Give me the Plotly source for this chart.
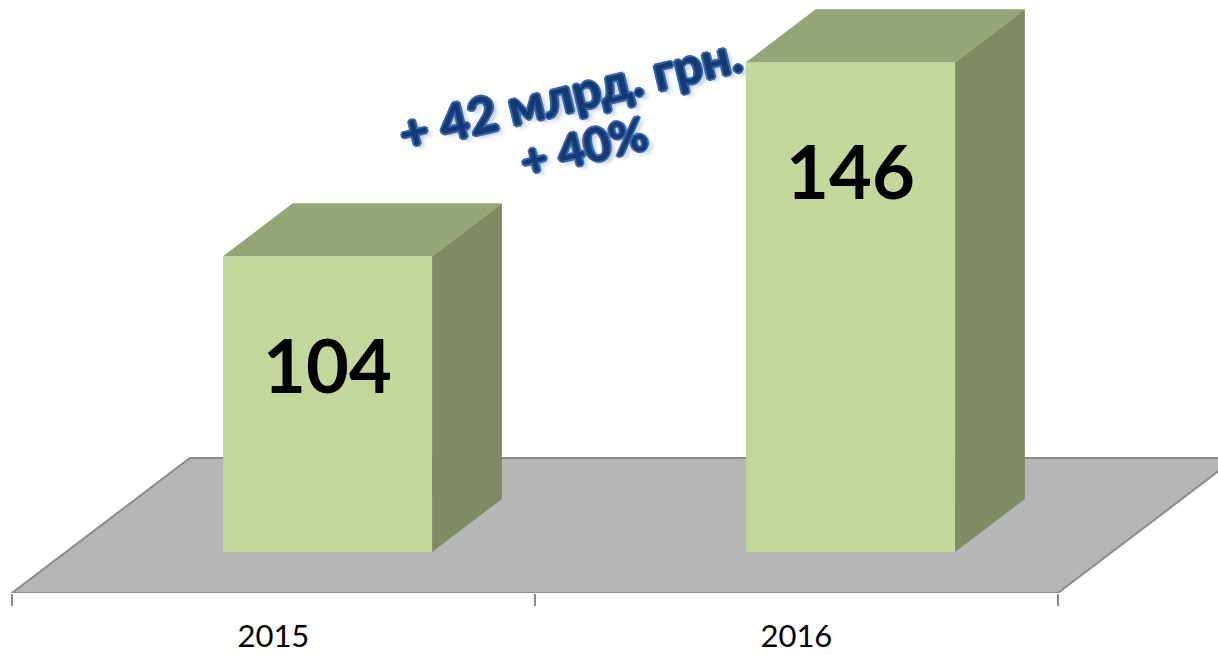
import plotly.graph_objects as go

# ---------------- data ----------------
years = ["2015", "2016"]
values = [104, 146]
axis_min = 40
delta_lines = ["+ 42 млрд. грн.", "+ 40%"]

# ---------------- 3D projection parameters ----------------
cat = [0, 1]          # category positions (bar front-face centres)
W = 0.4               # bar width (category units)
DX = 0.3404           # full floor depth, x offset (category units)
DY = 29.22            # full floor depth, y offset (value units)
D_FRONT, D_BACK = 0.304, 0.696   # bar depth within floor (0=front, 1=back)
PX_PER_UNIT = 4.62
PLOT_H = 593

FRONT = "#C4D79B"
TOP = "#95A577"
SIDE = "#7E8B63"
FLOOR = "#B6B6B6"
FLOOR_EDGE = "#8C8C8C"


def P(x, v, d):
    return x + (d - D_FRONT) * DX, v + (d - D_FRONT) * DY


fig = go.Figure()

# floor
fl = [P(-0.5, axis_min, 0), P(1.5, axis_min, 0), P(1.5, axis_min, 1), P(-0.5, axis_min, 1)]
path = "M " + " L ".join(f"{x},{y}" for x, y in fl) + " Z"
fig.add_shape(type="path", path=path, xref="x", yref="y", layer="below",
              fillcolor=FLOOR, line=dict(color=FLOOR_EDGE, width=2))

# bar front faces
fig.add_trace(go.Bar(x=cat, y=[v - axis_min for v in values], base=axis_min, width=W,
                     marker=dict(color=FRONT, line=dict(width=0)), hoverinfo="skip"))

# top and side faces
for c, v in zip(cat, values):
    top = [P(c - W / 2, v, D_FRONT), P(c + W / 2, v, D_FRONT), P(c + W / 2, v, D_BACK), P(c - W / 2, v, D_BACK)]
    side = [P(c + W / 2, axis_min, D_FRONT), P(c + W / 2, v, D_FRONT), P(c + W / 2, v, D_BACK), P(c + W / 2, axis_min, D_BACK)]
    for poly, col in ((top, TOP), (side, SIDE)):
        xs = [p[0] for p in poly] + [poly[0][0]]
        ys = [p[1] for p in poly] + [poly[0][1]]
        fig.add_trace(go.Scatter(x=xs, y=ys, mode="lines", fill="toself", fillcolor=col,
                                 line=dict(width=0, color=col), hoverinfo="skip"))

# value labels
fig.add_trace(go.Scatter(x=cat, y=[v - 25.6 for v in values], mode="text",
                         text=[str(v) for v in values],
                         textfont=dict(family="Lato", size=74, color="black", weight="bold"),
                         hoverinfo="skip"))

# growth annotation (two lines)
OUT = "#3566AE"
shadow = ", ".join(f"{dx}px {dy}px 0 {OUT}" for dx, dy in
                   [(-2, 0), (2, 0), (0, -2), (0, 2), (-1, -1), (1, -1), (-1, 1), (1, 1)])
shadow += ", 4px 4px 4px #C0CADB"
for txt, px, py, size in zip(delta_lines, [570, 583], [93, 146], [50, 46]):
    fig.add_annotation(x=px / 1218, y=1 - py / PLOT_H, xref="paper", yref="paper", text=txt,
                       xanchor="center", yanchor="middle",
                       showarrow=False, textangle=-13.5,
                       font=dict(family="Lato", size=size, color="#163A73", weight="bold", shadow=shadow))

# axes
y_lo = axis_min - D_FRONT * DY
y_hi = y_lo + PLOT_H / PX_PER_UNIT
label_x = [P(c, axis_min, 0)[0] for c in cat]
bound_x = [P(b, axis_min, 0)[0] for b in (-0.5, 0.5, 1.5)]

fig.update_xaxes(range=[-0.6262, 1.7027], showgrid=False, zeroline=False, showline=False,
                 automargin=False,
                 tickvals=label_x, ticktext=years, ticks="", ticklabelstandoff=22,
                 tickfont=dict(family="Lato", size=31, color="black"),
                 minor=dict(tickvals=bound_x, ticks="outside", ticklen=12, tickcolor=FLOOR_EDGE, tickwidth=1.5))
fig.update_yaxes(range=[y_lo, y_hi], visible=False, automargin=False)

fig.update_layout(width=1218, height=655, margin=dict(l=0, r=0, t=0, b=655 - PLOT_H),
                  plot_bgcolor="white", paper_bgcolor="white", showlegend=False)

fig.write_html("out.html", config={"displayModeBar": False},
               post_script="document.body.style.margin='0';document.body.style.overflow='hidden';")
